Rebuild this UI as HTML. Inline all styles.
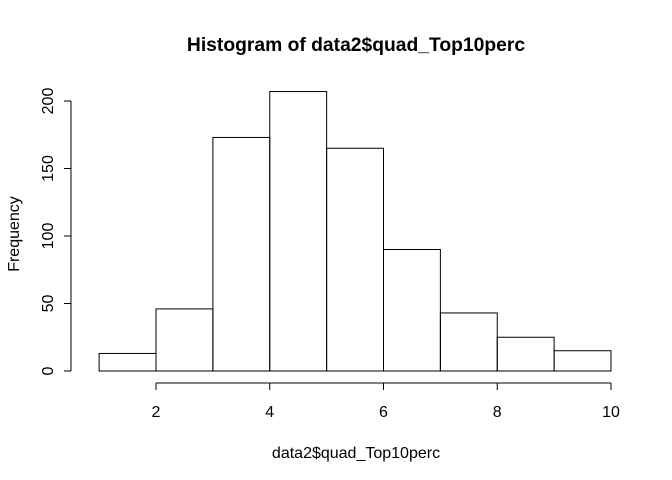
<!DOCTYPE html>
<html><head><meta charset="utf-8"><style>body{margin:0;background:#fff}svg{display:block;font-family:"Liberation Sans",Arial,sans-serif}</style></head>
<body>
<svg id="chart" width="672" height="480">
<text x="356" y="51" text-anchor="middle" font-weight="bold" font-size="19.3">Histogram of data2$quad_Top10perc</text>
<text x="356" y="458" text-anchor="middle" font-size="16">data2$quad_Top10perc</text>
<text transform="translate(19,234) rotate(-90)" text-anchor="middle" font-size="16">Frequency</text>
<g id="bars"></g>
<g id="xaxis"></g>
<g id="yaxis"></g>
</svg>
<script>
const binEdges=[1,2,3,4,5,6,7,8,9,10];
const counts=[13,46,173,207,165,90,43,25,15];
const xTicks=[2,4,6,8,10];
const yTicks=[0,50,100,150,200];
const NS="http://www.w3.org/2000/svg";
const xs=v=>156+(v-2)*56.875;
const ys=v=>371-v*1.35;
function mk(t,a,p){const e=document.createElementNS(NS,t);for(const k in a)e.setAttribute(k,a[k]);p.appendChild(e);return e;}
const bars=document.getElementById('bars');
counts.forEach((c,i)=>{
 const r=mk('rect',{x:xs(binEdges[i]),y:ys(c),width:xs(binEdges[i+1])-xs(binEdges[i]),height:ys(0)-ys(c),fill:'none',stroke:'#000','stroke-width':1},bars);
 
 
});
const xa=document.getElementById('xaxis');
mk('line',{x1:xs(xTicks[0]),x2:xs(xTicks[xTicks.length-1]),y1:383,y2:383,stroke:'#000'},xa);
xTicks.forEach(t=>{
 mk('line',{x1:xs(t),x2:xs(t),y1:383,y2:390,stroke:'#000'},xa);
 const l=mk('text',{x:xs(t),y:417,'text-anchor':'middle','font-size':16},xa);
 l.textContent=t;
 
 
});
const ya=document.getElementById('yaxis');
mk('line',{x1:71,x2:71,y1:ys(yTicks[0]),y2:ys(yTicks[yTicks.length-1]),stroke:'#000'},ya);
yTicks.forEach(t=>{
 mk('line',{x1:64,x2:71,y1:ys(t),y2:ys(t),stroke:'#000'},ya);
 const l=mk('text',{transform:`translate(53,${ys(t)}) rotate(-90)`,'text-anchor':'middle','font-size':16},ya);
 l.textContent=t;
 
 
});
</script>
</body></html>
